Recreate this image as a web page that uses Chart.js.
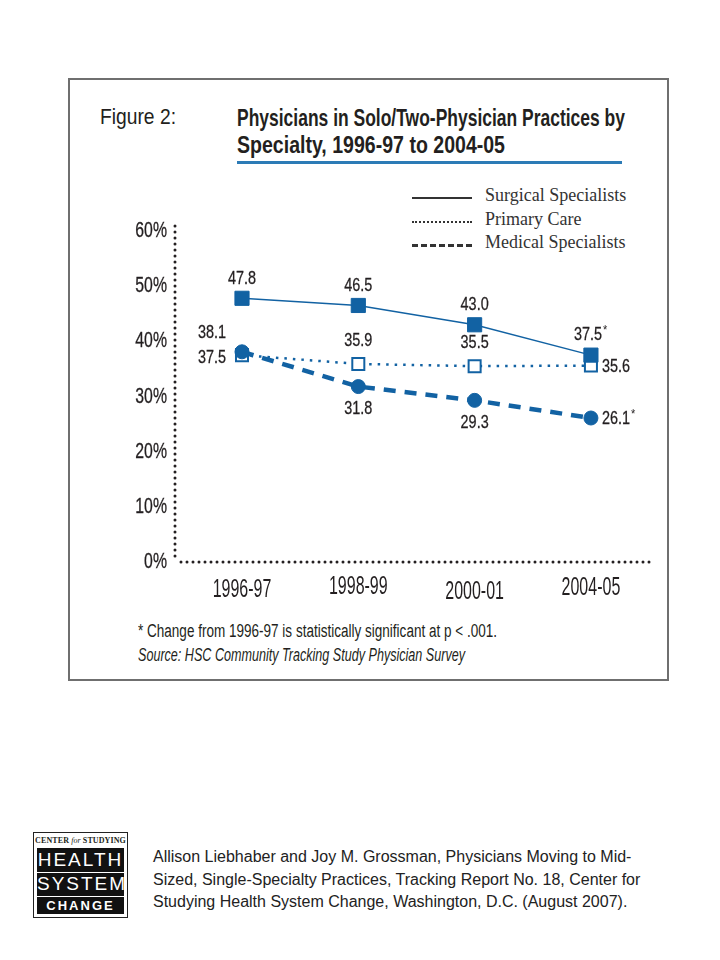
<!DOCTYPE html>
<html>
<head>
<meta charset="utf-8">
<script src="https://cdn.jsdelivr.net/npm/chart.js@4.4.1/dist/chart.umd.min.js"></script>
<style>
  body { margin: 0; width: 720px; height: 960px; background: #fff; position: relative; overflow: hidden;
         font-family: 'Liberation Sans', Arial, sans-serif; color: #231f20; }
  .abs { position: absolute; white-space: nowrap; }
  #frame { position: absolute; left: 68px; top: 78px; width: 597px; height: 599px; border: 2px solid #6f6f6f; }
  .fit { transform-origin: 0 50%; }
  #figLabel { left: 100px; top: 104px; font-size: 22px; }
  .title { left: 237px; font-size: 24px; font-weight: bold; }
  #rule { position: absolute; left: 237px; top: 161px; width: 385px; height: 3px; background: #2c7bb6; }
  .legendLine { position: absolute; left: 412px; width: 60px; height: 0; }
  .legendText { left: 485px; font-family: 'Liberation Serif', 'DejaVu Serif', serif; font-size: 18px; color: #333; }
  #chartBox { position: absolute; left: 68px; top: 215px; width: 600px; height: 400px; }
  .note { left: 138px; font-size: 18px; }
  #logo { position: absolute; left: 33px; top: 832px; width: 93px; height: 84px; border: 1px solid #222; background: #fff; }
  #logoTop { position: absolute; left: 0; top: 3px; width: 93px; text-align: center; font-family: 'Liberation Serif', serif;
             font-size: 8px; font-weight: bold; letter-spacing: 0.1px; }
  #logoTop i { font-weight: normal; }
  #logoBlack { position: absolute; left: 3px; top: 15px; width: 87px; height: 66px; background: #111; color: #fff; }
  .logoWord { position: absolute; left: 0; width: 87px; text-align: center; font-family: 'Liberation Sans', sans-serif; }
  .logoRule { position: absolute; left: 0; width: 87px; height: 1px; background: #fff; }
  #cite { left: 153px; top: 846px; font-family: 'Liberation Sans', Arial, sans-serif; font-size: 16px; line-height: 22.5px; color: #222; }
</style>
</head>
<body>
<div id="frame"></div>
<div class="abs fit" id="figLabel" data-w="76">Figure 2:</div>
<div class="abs title fit" style="top:104px" data-w="388">Physicians in Solo/Two-Physician Practices by</div>
<div class="abs title fit" style="top:131px" data-w="268">Specialty, 1996-97 to 2004-05</div>
<div id="rule"></div>

<div class="legendLine" style="top:197px; border-top:2px solid #333"></div>
<div class="legendLine" style="top:221px; border-top:2px dotted #333"></div>
<div class="legendLine" style="top:244px; border-top:3px dashed #333"></div>
<div class="abs legendText" style="top:185px">Surgical Specialists</div>
<div class="abs legendText" style="top:209px">Primary Care</div>
<div class="abs legendText" style="top:232px">Medical Specialists</div>

<div id="chartBox"><canvas id="trendChart" width="600" height="400"></canvas></div>

<div class="abs note fit" style="top:621px" data-w="359">* Change from 1996-97 is statistically significant at p &lt; .001.</div>
<div class="abs note fit" style="top:645px; font-style:italic" data-w="327">Source: HSC Community Tracking Study Physician Survey</div>

<div id="logo">
  <div id="logoTop">CENTER <i>for</i> STUDYING</div>
  <div id="logoBlack">
    <div class="logoWord" style="top:1px; font-size:19px; letter-spacing:2px; font-weight:300">HEALTH</div>
    <div class="logoRule" style="top:24px"></div>
    <div class="logoWord" style="top:25px; font-size:19px; letter-spacing:2px; font-weight:300">SYSTEM</div>
    <div class="logoRule" style="top:48px"></div>
    <div class="logoWord" style="top:50px; font-size:13px; letter-spacing:2px; font-weight:bold">CHANGE</div>
  </div>
</div>
<div class="abs" id="cite">Allison Liebhaber and Joy M. Grossman, Physicians Moving to Mid-<br>Sized, Single-Specialty Practices, Tracking Report No. 18, Center for<br>Studying Health System Change, Washington, D.C. (August 2007).</div>

<script>
// data
const periods = ['1996-97', '1998-99', '2000-01', '2004-05'];
const surgical = [47.8, 46.5, 43.0, 37.5];
const primaryCare = [37.5, 35.9, 35.5, 35.6];
const medical = [38.1, 31.8, 29.3, 26.1];
const surgicalSignificant = [false, false, false, true];
const primarySignificant = [false, false, false, false];
const medicalSignificant = [false, false, false, true];
const yTicks = [0, 10, 20, 30, 40, 50, 60];

// where each value label sits relative to its point
const surgicalLabelSide = ['above', 'above', 'above', 'above'];
const primaryLabelSide = ['left', 'aboveHigh', 'aboveHigh', 'right'];
const medicalLabelSide = ['leftAbove', 'below', 'below', 'right'];
// the period labels are set a little unevenly in the original
const periodLabelNudge = [1, -2, 3, -1];

const sans = "'Liberation Sans', Arial, sans-serif";
const blue = '#1262a3';
const ink = '#231f20';

// squeeze html text to the widths in the original
document.querySelectorAll('.fit').forEach(el => {
    const target = parseFloat(el.dataset.w);
    const w = el.getBoundingClientRect().width;
    if (w > 0) el.style.transform = 'scaleX(' + (target / w) + ')';
});

const toPoints = arr => arr.map((v, i) => ({ x: i, y: v }));

// canvas has no condensed face, so squash a regular one (optional thin stroke for a medium weight)
function narrowText(ctx, text, x, y, size, squeeze, align, weight) {
    ctx.save();
    ctx.font = size + 'px ' + sans;
    const w = ctx.measureText(text).width * squeeze;
    let left = x;
    if (align === 'center') left = x - w / 2;
    else if (align === 'right') left = x - w;
    ctx.translate(left, y);
    ctx.scale(squeeze, 1);
    ctx.fillStyle = ink;
    ctx.textAlign = 'left';
    ctx.textBaseline = 'middle';
    ctx.fillText(text, 0, 0);
    if (weight) {
        ctx.strokeStyle = ink;
        ctx.lineWidth = weight;
        ctx.strokeText(text, 0, 0);
    }
    ctx.restore();
    return w;
}

const sideOffsets = {
    above: { dx: 0, dy: -20, align: 'center' },
    aboveHigh: { dx: 0, dy: -23, align: 'center' },
    below: { dx: 0, dy: 22, align: 'center' },
    left: { dx: -16, dy: 3, align: 'right' },
    leftAbove: { dx: -16, dy: -19, align: 'right' },
    right: { dx: 11, dy: 1, align: 'left' }
};

// dotted axes and condensed tick labels
const dottedAxes = {
    id: 'dottedAxes',
    beforeDatasetsDraw(chart) {
        const { ctx, chartArea } = chart;
        ctx.save();
        ctx.strokeStyle = ink;
        ctx.lineWidth = 3;
        ctx.lineCap = 'round';
        ctx.setLineDash([0, 6]);
        ctx.beginPath();
        ctx.moveTo(chartArea.left, chartArea.top - 5);
        ctx.lineTo(chartArea.left, chartArea.bottom);
        ctx.moveTo(chartArea.left + 6, chartArea.bottom);
        ctx.lineTo(chartArea.right, chartArea.bottom);
        ctx.stroke();
        ctx.restore();

        const yScale = chart.scales.y;
        yTicks.forEach(v => {
            narrowText(ctx, v + '%', chartArea.left - 8, yScale.getPixelForValue(v), 22, 0.72, 'right', 0.3);
        });
        const xScale = chart.scales.x;
        periods.forEach((p, i) => {
            narrowText(ctx, p, xScale.getPixelForValue(i), chartArea.bottom + 27 + periodLabelNudge[i], 25, 0.64, 'center', 0);
        });
    }
};

// value labels next to the markers
const valueLabels = {
    id: 'valueLabels',
    afterDatasetsDraw(chart) {
        const ctx = chart.ctx;
        chart.data.datasets.forEach((ds, di) => {
            const meta = chart.getDatasetMeta(di);
            meta.data.forEach((pt, i) => {
                const side = sideOffsets[ds.labelSides[i]];
                const text = ds.data[i].y.toFixed(1);
                const star = ds.significant[i];
                ctx.save();
                ctx.font = '19px ' + sans;
                const w = ctx.measureText(text).width * 0.76;
                ctx.restore();
                const starW = star ? 6 : 0;
                let left;
                if (side.align === 'center') left = pt.x + side.dx - (w + starW) / 2;
                else if (side.align === 'right') left = pt.x + side.dx - w - starW;
                else left = pt.x + side.dx;
                const y = pt.y + side.dy;
                narrowText(ctx, text, left, y, 19, 0.76, 'left', 0.3);
                if (star) narrowText(ctx, '*', left + w + 1, y - 5, 13, 0.85, 'left', 0);
            });
        });
    }
};

new Chart(document.getElementById('trendChart').getContext('2d'), {
    type: 'line',
    data: {
        datasets: [
            {
                label: 'Surgical Specialists',
                data: toPoints(surgical),
                borderColor: blue,
                borderWidth: 1.5,
                pointStyle: 'rect',
                pointRadius: 10,
                pointBackgroundColor: blue,
                pointBorderColor: blue,
                pointBorderWidth: 1,
                labelSides: surgicalLabelSide,
                significant: surgicalSignificant,
                order: 1
            },
            {
                label: 'Primary Care',
                data: toPoints(primaryCare),
                borderColor: blue,
                borderWidth: 2.5,
                borderDash: [2.5, 6],
                pointStyle: 'rect',
                pointRadius: 8.5,
                pointBackgroundColor: '#fff',
                pointBorderColor: blue,
                pointBorderWidth: 2,
                labelSides: primaryLabelSide,
                significant: primarySignificant,
                order: 2
            },
            {
                label: 'Medical Specialists',
                data: toPoints(medical),
                borderColor: blue,
                borderWidth: 4.5,
                borderDash: [12, 9],
                pointStyle: 'circle',
                pointRadius: 7,
                pointBackgroundColor: blue,
                pointBorderColor: blue,
                pointBorderWidth: 1,
                labelSides: medicalLabelSide,
                significant: medicalSignificant,
                order: 0
            }
        ]
    },
    options: {
        responsive: false,
        animation: false,
        devicePixelRatio: 1,
        layout: { padding: { top: 16, right: 16, left: 0, bottom: 0 } },
        plugins: { legend: { display: false }, tooltip: { enabled: false } },
        scales: {
            x: {
                type: 'linear',
                min: -0.576,
                max: 3.525,
                afterFit: scale => { scale.height = 53; },
                grid: { display: false },
                border: { display: false },
                ticks: { display: false }
            },
            y: {
                min: 0,
                max: 60,
                afterFit: scale => { scale.width = 107; },
                grid: { display: false },
                border: { display: false },
                ticks: { display: false }
            }
        }
    },
    plugins: [dottedAxes, valueLabels]
});
</script>
</body>
</html>
